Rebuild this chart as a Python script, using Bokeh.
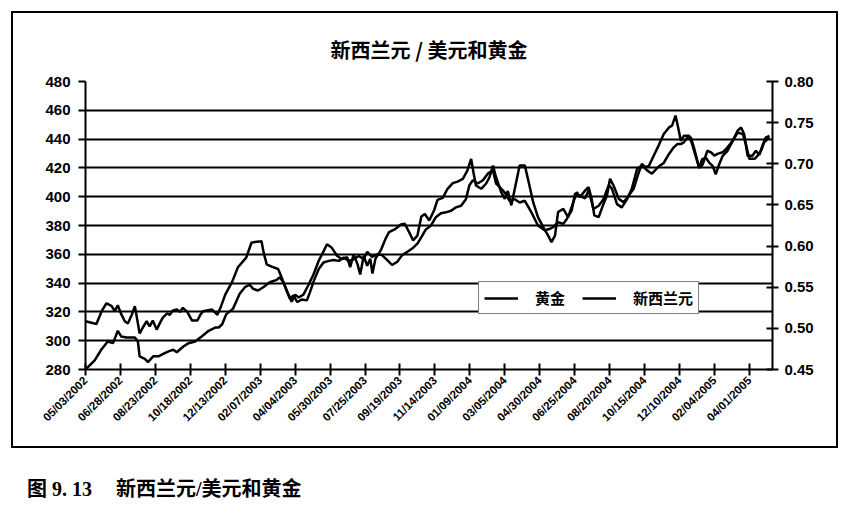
import math
from bokeh.plotting import figure
from bokeh.layouts import column
from bokeh.models import (Range1d, LinearAxis, FixedTicker, Legend, LegendItem,
                          Div, NumeralTickFormatter)
from bokeh.embed import file_html
from bokeh.resources import INLINE

# ---------------- data ----------------
title_text = "新西兰元 / 美元和黄金"
caption_label = "图 9. 13"
caption_title = "新西兰元/美元和黄金"
series_names = ["黄金", "新西兰元"]

tick_weeks = [0, 8, 16, 24, 32, 40, 48, 56, 64, 72, 80, 88, 96, 104, 112, 120, 128, 136, 144, 152]
tick_labels = ["05/03/2002", "06/28/2002", "08/23/2002", "10/18/2002", "12/13/2002",
               "02/07/2003", "04/04/2003", "05/30/2003", "07/25/2003", "09/19/2003",
               "11/14/2003", "01/09/2004", "03/05/2004", "04/30/2004", "06/25/2004",
               "08/20/2004", "10/15/2004", "12/10/2004", "02/04/2005", "04/01/2005"]

gold_ticks = [280, 300, 320, 340, 360, 380, 400, 420, 440, 460, 480]
nzd_ticks = [0.45, 0.50, 0.55, 0.60, 0.65, 0.70, 0.75, 0.80]

# weeks since 05/03/2002
gold_wk = [0, 2.5, 3.7, 4.8, 6.0, 6.7, 7.4, 8.1, 9.0, 9.7, 10.6, 11.3, 12.4, 13.1, 14.0, 14.7,
           15.4, 16.3, 17.0, 17.7, 18.7, 19.3, 20.0, 21.0, 21.6, 22.3, 23.3, 24.4, 25.6, 26.3,
           26.9, 29.0, 30.2, 30.9, 32.0, 33.6, 34.9, 36.8, 38.0, 38.8, 40.3, 40.8, 41.5, 42.6,
           44.1, 44.9, 45.7, 46.5, 47.2, 48.0, 48.8, 49.9, 51.1, 52.2, 53.4, 54.5, 55.3, 56.4,
           57.6, 58.7, 59.9, 60.6, 61.4, 62.3, 62.9, 63.7, 64.5, 65.2, 65.7, 66.4, 67.6, 68.7,
           69.5, 71.0, 72.2, 73.1, 74.1, 75.0, 76.0, 76.9, 77.7, 78.7, 79.8, 80.6, 81.8, 82.9,
           84.1, 85.2, 86.4, 87.4, 88.3, 88.9, 89.4, 90.6, 91.7, 92.5, 93.3, 94.0, 95.2, 96.0,
           96.7, 97.5, 98.3, 99.4, 100.6, 101.3, 102.5, 103.6, 104.8, 105.9, 106.7, 107.5,
           108.2, 109.4, 110.5, 111.7, 112.5, 113.2, 114.4, 115.2, 115.9, 116.5, 117.5, 118.6,
           119.4, 120.1, 120.9, 122.1, 123.2, 124.4, 125.5, 126.7, 127.4, 128.2, 129.0, 130.1,
           131.3, 132.4, 133.6, 134.3, 135.1, 135.7, 136.3, 137.0, 138.2, 138.9, 139.7, 140.5,
           141.2, 142.0, 142.8, 143.6, 144.3, 145.1, 145.9, 147.0, 148.2, 149.3, 150.1, 150.8,
           151.6, 152.7, 153.5, 154.3, 155.1, 155.8, 156.6]
gold = [313.5, 311.6, 320.5, 326, 324, 320.5, 324.6, 319, 313.5, 312, 318, 324, 305, 309, 313.5, 310,
        314, 307.7, 312, 316, 319, 318, 321, 321.6, 320, 322.8, 320, 314, 314, 318,
        320.5, 321.6, 318, 322.8, 332, 341, 351, 357.7, 368, 368.6, 369, 361, 353, 351.4,
        349.8, 344, 337.7, 332, 327, 332, 330, 332, 339, 346, 355.5, 362, 367, 364.5,
        359, 356.6, 358, 351, 360, 353, 346, 359, 352, 357, 346.6, 357, 362.7, 370.8,
        375.4, 377.7, 380.7, 381.2, 375.4, 369.7, 373, 386.3, 388, 383.5, 390.4, 397.8, 399.2, 405.5,
        409.4, 410.5, 412.4, 418, 426.2, 415.8, 407.8, 405.5, 409, 413.5, 421.6, 413.5, 403, 398.5,
        404, 394, 405.5, 421.6, 421.6, 412.4, 396.2, 385.8, 378.9, 373.1, 368.5, 373,
        389.3, 391.6, 385.8, 396.2, 403.1, 399.7, 404.3, 406.6, 398.5, 387, 385.8, 395,
        400.8, 412.4, 407.8, 398.5, 396.2, 400.8, 405.5, 417, 422.8, 420.5, 421.4, 428.4,
        436, 443.5, 448.1, 449.3, 456.3, 448.1, 438.8, 442.3, 442.3, 436.5, 428.4, 420.2,
        426, 427.2, 423.7, 421.4, 415.6, 422.6, 428.4, 431.9, 438.8, 445.8, 448.1, 443.5,
        428.4, 428.4, 431.9, 429, 436.5, 441.2, 442.3]

nzd_wk = [0, 2.1, 3.6, 5.1, 6.3, 7.4, 8.2, 9.4, 11.3, 12.0, 12.4, 13.6, 14.3, 15.5, 16.7, 17.8,
          19.0, 20.1, 20.9, 22.4, 23.6, 25.1, 26.6, 28.2, 29.7, 30.5, 31.3, 32.2, 33.8, 35.3,
          36.5, 37.6, 38.4, 39.5, 40.7, 42.2, 43.8, 44.5, 45.3, 46.1, 46.8, 47.6, 48.5, 49.5,
          50.7, 51.4, 52.3, 53.4, 54.5, 55.7, 56.8, 58.0, 59.1, 60.3, 61.4, 62.6, 63.7, 64.5,
          65.6, 66.8, 67.9, 69.1, 70.2, 71.4, 72.5, 73.7, 74.8, 76.0, 76.9, 77.9, 79.1, 80.2,
          81.4, 82.5, 83.7, 84.8, 86.0, 87.1, 87.9, 88.7, 89.8, 91.0, 92.1, 93.3, 94.0, 94.8,
          96.0, 97.1, 98.3, 99.4, 100.6, 102.1, 103.6, 105.2, 106.3, 107.1, 108.2, 109.4,
          110.2, 111.3, 112.1, 113.2, 114.4, 115.2, 116.3, 117.5, 118.6, 119.8, 120.5, 121.7,
          122.8, 124.0, 125.1, 126.3, 127.4, 128.6, 129.7, 131.3, 132.4, 133.6, 134.7, 135.5,
          136.3, 137.0, 137.8, 138.6, 139.4, 140.5, 141.3, 142.4, 143.2, 144.0, 144.7, 145.9,
          147.0, 148.2, 149.3, 150.5, 151.2, 152.0, 153.2, 153.9, 154.7, 155.4, 156.6]
nzd = [0.450, 0.461, 0.474, 0.484, 0.482, 0.497, 0.490, 0.489, 0.489, 0.484, 0.466, 0.463, 0.459, 0.466, 0.466, 0.469,
       0.472, 0.474, 0.471, 0.478, 0.482, 0.484, 0.490, 0.497, 0.501, 0.501, 0.505, 0.517, 0.524, 0.542,
       0.550, 0.553, 0.548, 0.546, 0.550, 0.556, 0.559, 0.562, 0.556, 0.545, 0.536, 0.540, 0.532, 0.535,
       0.534, 0.544, 0.558, 0.572, 0.580, 0.582, 0.583, 0.582, 0.586, 0.582, 0.584, 0.588, 0.584, 0.593,
       0.587, 0.590, 0.589, 0.583, 0.577, 0.581, 0.589, 0.593, 0.597, 0.603, 0.611, 0.620, 0.625, 0.635,
       0.640, 0.641, 0.643, 0.647, 0.649, 0.657, 0.674, 0.680, 0.676, 0.680, 0.688, 0.692, 0.676, 0.672,
       0.665, 0.655, 0.657, 0.653, 0.655, 0.641, 0.625, 0.619, 0.621, 0.623, 0.629, 0.627,
       0.633, 0.643, 0.664, 0.661, 0.658, 0.668, 0.645, 0.649, 0.657, 0.674, 0.670, 0.651,
       0.647, 0.657, 0.670, 0.694, 0.698, 0.692, 0.688, 0.697, 0.701, 0.712, 0.720, 0.724,
       0.724, 0.726, 0.732, 0.732, 0.718, 0.695, 0.699, 0.716, 0.714, 0.710, 0.712, 0.714,
       0.720, 0.728, 0.738, 0.736, 0.724, 0.706, 0.706, 0.710, 0.716, 0.726, 0.732]

# ---------------- figure ----------------
NUM_FONT = "Liberation Sans"
CJK_FONT = "Noto Sans CJK SC"

p = figure(width=827, height=437, output_backend="svg", toolbar_location=None,
           x_range=Range1d(0, 157.3), y_range=Range1d(280, 480),
           min_border_left=72, min_border_right=68, min_border_top=68, min_border_bottom=81,
           margin=(11, 0, 0, 11), styles={"border": "2px solid black"})
p.background_fill_color = "white"
p.border_fill_color = "white"
p.outline_line_color = None

p.title.text = title_text
p.title.align = "center"
p.title.text_font = CJK_FONT
p.title.text_font_size = "20px"
p.title.text_font_style = "bold"
p.title.text_color = "black"
p.title.standoff = 35

left_ticker = FixedTicker(ticks=gold_ticks)
p.yaxis.ticker = left_ticker
p.ygrid.ticker = left_ticker
p.ygrid.grid_line_color = "black"
p.ygrid.grid_line_width = 2
p.xgrid.visible = False

for ax in p.yaxis:
    ax.axis_line_width = 2
    ax.major_tick_line_width = 2
    ax.major_tick_in = 0
    ax.major_tick_out = 7
    ax.minor_tick_line_color = None
    ax.major_label_standoff = 8
    ax.major_label_text_font = NUM_FONT
    ax.major_label_text_font_size = "15px"
    ax.major_label_text_font_style = "bold"
    ax.major_label_text_color = "black"

p.extra_y_ranges = {"nzd": Range1d(0.45, 0.80)}
rax = LinearAxis(y_range_name="nzd", ticker=FixedTicker(ticks=nzd_ticks),
                 formatter=NumeralTickFormatter(format="0.00"))
rax.axis_line_width = 2
rax.major_tick_line_width = 2
rax.major_tick_in = 6
rax.major_tick_out = 6
rax.minor_tick_line_color = None
rax.major_label_standoff = 6
rax.major_label_text_font = NUM_FONT
rax.major_label_text_font_size = "15px"
rax.major_label_text_font_style = "bold"
rax.major_label_text_color = "black"
p.add_layout(rax, "right")

xa = p.xaxis[0]
xa.ticker = FixedTicker(ticks=tick_weeks)
xa.major_label_overrides = {w: lab for w, lab in zip(tick_weeks, tick_labels)}
xa.major_label_orientation = math.pi / 4
xa.axis_line_width = 2
xa.major_tick_line_width = 2
xa.major_tick_in = 6
xa.major_tick_out = 6
xa.minor_tick_line_color = None
xa.major_label_standoff = 3
xa.major_label_text_font = NUM_FONT
xa.major_label_text_font_size = "11.5px"
xa.major_label_text_font_style = "bold"
xa.major_label_text_color = "black"

r_gold = p.line(gold_wk, gold, line_color="black", line_width=2.5)
r_nzd = p.line(nzd_wk, nzd, y_range_name="nzd", line_color="black", line_width=2.5)

legend = Legend(items=[LegendItem(label=series_names[0], renderers=[r_gold]),
                       LegendItem(label=series_names[1], renderers=[r_nzd])],
                orientation="horizontal", location=(393, 55))
legend.label_text_font = CJK_FONT
legend.label_text_font_size = "15px"
legend.label_text_font_style = "bold"
legend.label_text_color = "black"
legend.border_line_color = "black"
legend.border_line_width = 1.5
legend.background_fill_color = "white"
legend.background_fill_alpha = 1
legend.padding = 5
legend.margin = 0
legend.spacing = 17
legend.glyph_width = 34
legend.glyph_height = 18
legend.label_standoff = 17
p.add_layout(legend)

# caption below the boxed chart
cap_html = (f'<span>{caption_label}</span>'
            f'<span style="margin-left:24px">{caption_title}</span>')
cap = Div(text=cap_html, width=800, height=40, margin=(29, 0, 0, 27),
          styles={"font-family": "'Liberation Serif', 'Noto Sans CJK SC'",
                  "font-weight": "bold", "font-size": "20px", "color": "black",
                  "line-height": "24px", "white-space": "nowrap"})

layout = column(p, cap, spacing=0)
open("out.html", "w").write(file_html(layout, INLINE))
